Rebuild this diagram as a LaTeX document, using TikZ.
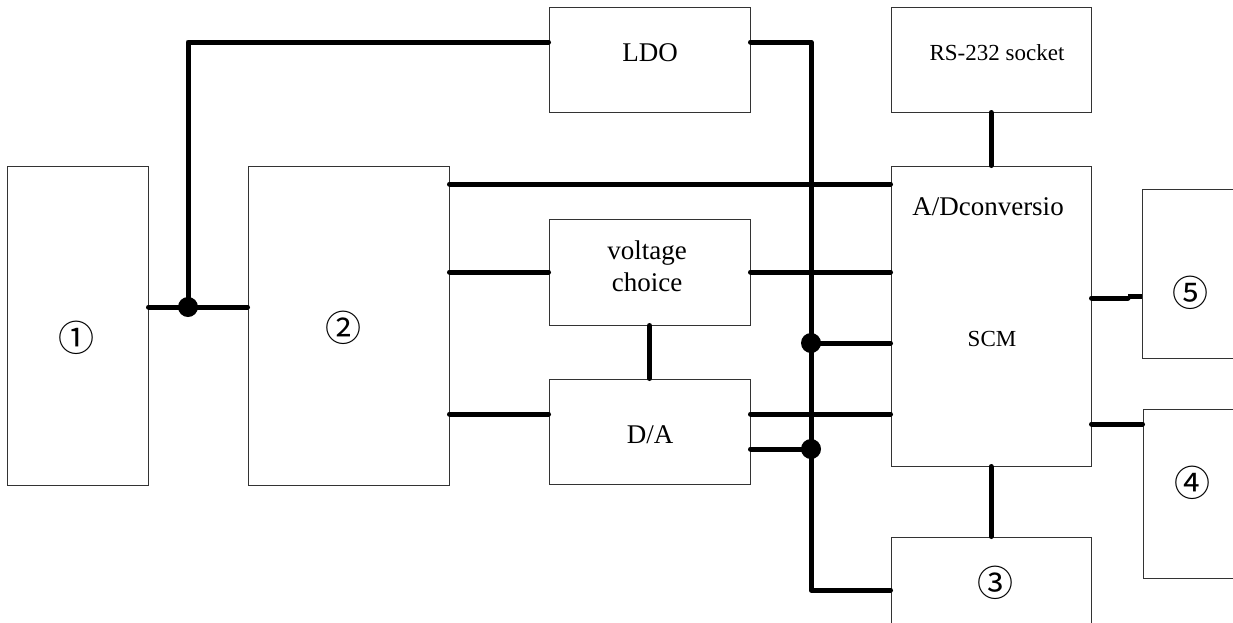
\documentclass[tikz,border=0pt]{standalone}
\usepackage{fontspec}
\setmainfont{Liberation Serif}
\newfontfamily\circfont{Noto Sans CJK SC}[Scale=1]
\begin{document}
\begin{tikzpicture}[x=1pt,y=-1pt,
  box/.style={draw=black!80,line width=1pt,rectangle,inner sep=0pt},
  wire/.style={line width=5pt,line cap=round,line join=round},
  dot/.style={circle,fill=black,inner sep=0pt,minimum size=20pt},
  lbl/.style={inner sep=0pt,font=\fontsize{27}{32}\selectfont},
  slbl/.style={inner sep=0pt,font=\fontsize{23}{27}\selectfont},
  num/.style={inner sep=0pt,font=\circfont\fontsize{36}{40}\selectfont}]
\useasboundingbox (0,0) rectangle (1233,622);
\clip (0,0) rectangle (1233,622);
\fill[white] (0,0) rectangle (1233,622);
% boxes
\node[box,minimum width=141,minimum height=319] (b1) at (77.5,325.5) {};
\node[box,minimum width=201,minimum height=319] (b2) at (348.5,325.5) {};
\node[box,minimum width=201,minimum height=105] (ldo) at (649.5,59.5) {};
\node[box,minimum width=200,minimum height=105] (rs) at (991,59.5) {};
\node[box,minimum width=201,minimum height=106] (vc) at (649.5,272) {};
\node[box,minimum width=201,minimum height=105] (da) at (649.5,431.5) {};
\node[box,minimum width=200,minimum height=300] (scm) at (991,316) {};
\node[box,minimum width=120,minimum height=169] (b5) at (1202,273.5) {};
\node[box,minimum width=120,minimum height=169] (b4) at (1203,493.5) {};
\node[box,minimum width=200,minimum height=110] (b3) at (991,592) {};
% texts
\node[num] (t1) at (76,338) {①};
\node[num] (t2) at (343,328) {②};
\node[lbl] (tldo) at (650,53) {LDO};
\node[slbl] (trs) at (997,53) {RS-232 socket};
\node[lbl,align=center] (tvc) at (647,266) {voltage\\choice};
\node[lbl] (tad) at (988,207) {A/Dconversio};
\node[slbl] (tscm) at (992,339) {SCM};
\node[lbl] (tda) at (650,435) {D/A};
\node[num] (t3) at (995,583) {③};
\node[num] (t4) at (1192,483) {④};
\node[num] (t5) at (1190,293) {⑤};
% level coordinates
\coordinate (yL) at (0,42);
\coordinate (yA) at (0,184);
\coordinate (yD) at (0,414);
\coordinate (yE) at (0,449);
\coordinate (yF) at (0,590);
\coordinate (y5) at (0,298);
\coordinate (y5b) at (0,296);
\coordinate (k5) at (1128,297);
\coordinate (y4) at (0,424);
\coordinate (c0) at (188,42);
\coordinate (j1) at (188,307);
\coordinate (c1) at (811,42);
\coordinate (j2) at (811,343);
\coordinate (j3) at (811,449);
\coordinate (c2) at (811,590);
% wires
\draw[wire] (ldo.west |- yL) -- (c0) -- (j1);
\draw[wire] (b1.east |- j1) -- (b2.west |- j1);
\draw[wire] (ldo.east |- yL) -- (c1) -- (c2) -- (b3.west |- yF);
\draw[wire] (b2.east |- yA) -- (scm.west |- yA);
\draw[wire] (b2.east |- vc.west) -- (vc.west);
\draw[wire] (vc.east) -- (scm.west |- vc.east);
\draw[wire] (j2) -- (scm.west |- j2);
\draw[wire] (vc.south) -- (da.north);
\draw[wire] (b2.east |- yD) -- (da.west |- yD);
\draw[wire] (da.east |- yD) -- (scm.west |- yD);
\draw[wire] (da.east |- yE) -- (j3);
\draw[wire] (rs.south) -- (scm.north);
\draw[wire] (scm.south) -- (b3.north);
\draw[wire] (scm.east |- y5) -- (k5 |- y5);
\draw[wire,line cap=butt] (k5 |- y5b) -- (b5.west |- y5b);
\draw[wire] (scm.east |- y4) -- (b4.west |- y4);
% junction dots
\node[dot] (d1) at (j1) {};
\node[dot] (d2) at (j2) {};
\node[dot] (d3) at (j3) {};
\end{tikzpicture}
\end{document}
